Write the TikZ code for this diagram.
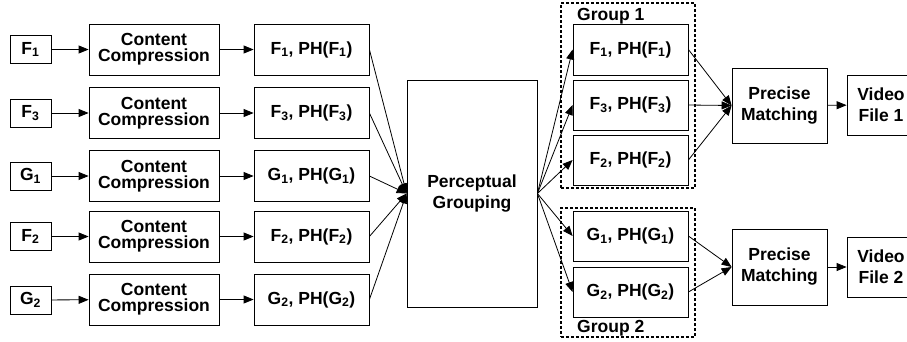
\documentclass[tikz,border=0pt]{standalone}
\usepackage{fontspec}
\setmainfont{Liberation Sans}
\usetikzlibrary{arrows.meta}
\newcommand{\sbs}[1]{\textsubscript{#1}}
\begin{document}
\begin{tikzpicture}[x=1pt,y=-1pt,
  box/.style={draw, line width=0.8pt, inner sep=0pt, align=center,
    font=\bfseries\fontsize{17.5}{21}\selectfont},
  ccbox/.style={box, minimum width=130pt, minimum height=51pt,
    font=\bfseries\fontsize{17.5}{16}\selectfont},
  inbox/.style={box, minimum width=41pt, minimum height=28pt},
  phbox/.style={box, minimum width=115pt, minimum height=51pt},
  pmbox/.style={box, minimum width=95pt, minimum height=76pt},
  vfbox/.style={box, minimum width=68pt, minimum height=60pt},
  grp/.style={draw, line width=1.2pt, dash pattern=on 3pt off 2pt, inner sep=0pt},
  lbl/.style={inner sep=0pt, font=\bfseries\fontsize{17.5}{21}\selectfont},
  arr/.style={-{Triangle[length=10pt,width=8pt]}, line width=0.8pt}]
\useasboundingbox (0,0) rectangle (907,341);
% inputs
\node[inbox] (i1) at (30.5,49.5) {F\sbs{1}};
\node[inbox] (i2) at (30.5,113) {F\sbs{3}};
\node[inbox] (i3) at (30.5,176) {G\sbs{1}};
\node[inbox] (i4) at (30.5,236.5) {F\sbs{2}};
\node[inbox] (i5) at (30.5,300) {G\sbs{2}};
% content compression
\node[ccbox] (c1) at (154,49.5) {Content\\Compression};
\node[ccbox] (c2) at (154,113) {Content\\Compression};
\node[ccbox] (c3) at (154,176) {Content\\Compression};
\node[ccbox] (c4) at (154,236.5) {Content\\Compression};
\node[ccbox] (c5) at (154,299.5) {Content\\Compression};
% PH boxes
\node[phbox] (p1) at (311.5,49.5) {F\sbs{1}, PH(F\sbs{1})};
\node[phbox] (p2) at (311.5,113) {F\sbs{3}, PH(F\sbs{3})};
\node[phbox] (p3) at (311.5,176) {G\sbs{1}, PH(G\sbs{1})};
\node[phbox] (p4) at (311.5,236.5) {F\sbs{2}, PH(F\sbs{2})};
\node[phbox] (p5) at (311.5,299.5) {G\sbs{2}, PH(G\sbs{2})};
% perceptual grouping
\node[box, minimum width=130pt, minimum height=227pt] (pg) at (472,193.5) {Perceptual\\Grouping};
% groups
\node[grp, minimum width=134pt, minimum height=185pt] (g1) at (628,95.5) {};
\node[grp, minimum width=134pt, minimum height=129pt] (g2) at (628,272.5) {};
\node[lbl, anchor=base west] (l1) at (577,20) {Group 1};
\node[lbl, anchor=base west] (l2) at (577,332) {Group 2};
\node[phbox] (q1) at (630.5,49.5) {F\sbs{1}, PH(F\sbs{1})};
\node[phbox, minimum height=50pt] (q2) at (630.5,105) {F\sbs{3}, PH(F\sbs{3})};
\node[phbox, minimum height=50pt] (q3) at (630.5,160) {F\sbs{2}, PH(F\sbs{2})};
\node[phbox, minimum height=50pt] (q4) at (630.5,236) {G\sbs{1}, PH(G\sbs{1})};
\node[phbox, minimum height=50pt] (q5) at (630.5,292) {G\sbs{2}, PH(G\sbs{2})};
% precise matching
\node[pmbox, minimum height=75pt] (m1) at (779.5,105.5) {Precise\\Matching};
\node[pmbox] (m2) at (779.5,267) {Precise\\Matching};
\node[vfbox] (v1) at (881,105) {Video\\File 1};
\node[vfbox] (v2) at (881,267) {Video\\File 2};
% arrows
\foreach \k in {1,...,5} {
  \draw[arr] (i\k) -- (c\k);
  \draw[arr] (c\k) -- (p\k);
  \draw[arr] (p\k.east) -- (pg.west);
  \draw[arr] (pg.east) -- (q\k.west);
}
\foreach \k in {1,2,3} { \draw[arr] (q\k.east) -- (m1.west); }
\foreach \k in {4,5} { \draw[arr] (q\k.east) -- (m2.west); }
\draw[arr] (m1) -- (v1);
\draw[arr] (m2) -- (v2);
\end{tikzpicture}
\end{document}
